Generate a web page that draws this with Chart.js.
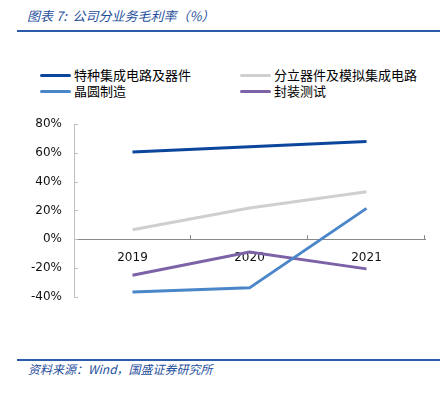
<!DOCTYPE html>
<html>
<head>
<meta charset="utf-8">
<script src="https://cdn.jsdelivr.net/npm/chart.js@4"></script>
<style>
  body { margin: 0; width: 447px; height: 393px; background: #fff; position: relative; overflow: hidden; }
  .title { position: absolute; left: 27px; top: 6px; font: italic 13px "Noto Sans CJK SC", sans-serif; color: #1f4f9c; white-space: nowrap; }
  .rule { position: absolute; left: 17px; width: 423px; height: 2px; background: #2a5caa; }
  .source { position: absolute; left: 28px; top: 360px; font: italic 12px "Noto Sans CJK SC", sans-serif; color: #1f4f9c; white-space: nowrap; }
  .legend-item { position: absolute; height: 16px; font: 13px "Noto Sans CJK SC", sans-serif; color: #000; white-space: nowrap; }
  .legend-item span.swatch { position: absolute; left: 0; top: 7px; width: 31px; height: 3px; border-radius: 2px; }
  .legend-item span.txt { position: absolute; left: 34px; top: -2px; }
  #wrap { position: absolute; left: 0; top: 100px; width: 447px; height: 216px; }
</style>
</head>
<body>
<div class="title">图表 7:&nbsp; 公司分业务毛利率（%）</div>
<div class="rule" style="top:30px"></div>
<div id="legend"></div>
<div id="wrap"><canvas id="chart"></canvas></div>
<div class="rule" style="top:359px"></div>
<div class="source">资料来源：Wind，国盛证券研究所</div>

<script>
// DATA
const years = ["2019", "2020", "2021"];
const special_ic = [60.5, 64.2, 67.8];
const discrete_analog = [6.5, 21.7, 32.9];
const wafer = [-36.6, -33.8, 21.4];
const packaging = [-25.0, -8.9, -20.6];
const y_ticks = [-40, -20, 0, 20, 40, 60, 80];

const series_names = ["特种集成电路及器件", "分立器件及模拟集成电路", "晶圆制造", "封装测试"];
const series_colors = ["#0b469c", "#cfcfcf", "#4a86c8", "#7d62a8"];
const series_data = [special_ic, discrete_analog, wafer, packaging];

// LEGEND (two columns)
const legend_el = document.getElementById("legend");
const legend_pos = [[40, 67], [240, 67], [40, 83], [240, 83]];
series_names.forEach((name, i) => {
  const item = document.createElement("div");
  item.className = "legend-item";
  item.style.left = legend_pos[i][0] + "px";
  item.style.top = legend_pos[i][1] + "px";
  item.innerHTML = `<span class="swatch" style="background:${series_colors[i]}"></span><span class="txt">${name}</span>`;
  legend_el.appendChild(item);
});

// small tick marks: inside for y, upward for x
const tickMarks = {
  id: "tickMarks",
  afterDraw(chart) {
    const { ctx } = chart;
    const x = chart.scales.x, y = chart.scales.y;
    const y0 = y.getPixelForValue(0);
    ctx.save();
    ctx.lineWidth = 1;
    ctx.strokeStyle = "#c0c0c0";
    y_ticks.forEach(v => {
      const py = Math.round(y.getPixelForValue(v)) + 0.5;
      ctx.beginPath();
      ctx.moveTo(x.left, py);
      ctx.lineTo(x.left + 4, py);
      ctx.stroke();
    });
    ctx.strokeStyle = "#888";
    const half = (x.right - x.left) / years.length / 2;
    years.forEach((yr, i) => {
      const px = Math.round(x.getPixelForValue(i) + half) - 0.5;
      ctx.beginPath();
      ctx.moveTo(px, y0);
      ctx.lineTo(px, y0 - 4);
      ctx.stroke();
    });
    ctx.restore();
  }
};

Chart.defaults.font.family = "'DejaVu Sans', sans-serif";
Chart.defaults.font.size = 12;
Chart.defaults.color = "#111";

const ctx = document.getElementById("chart").getContext("2d");
new Chart(ctx, {
  type: "line",
  data: {
    labels: years,
    datasets: series_names.map((name, i) => ({
      label: name,
      data: series_data[i],
      borderColor: series_colors[i],
      backgroundColor: series_colors[i],
      borderWidth: 3,
      pointRadius: 0,
      tension: 0,
      fill: false,
    })),
  },
  options: {
    responsive: true,
    maintainAspectRatio: false,
    animation: false,
    layout: { padding: { left: 0, right: 22, top: 24, bottom: 0 } },
    plugins: { legend: { display: false }, tooltip: { enabled: false } },
    scales: {
      x: {
        position: { y: 0 },
        offset: true,
        grid: { display: false, drawTicks: false },
        border: { display: true, color: "#888", width: 1 },
        ticks: { padding: 11, font: { size: 12 } },
      },
      y: {
        min: -40,
        max: 80,
        afterBuildTicks: (scale) => { scale.ticks = y_ticks.map(v => ({ value: v })); },
        afterFit: (scale) => { scale.width = 74; },
        grid: { display: false, drawTicks: false },
        border: { display: true, color: "#c0c0c0", width: 1 },
        ticks: { padding: 12, callback: (v) => v + "%" },
      },
    },
  },
  plugins: [tickMarks],
});
</script>
</body>
</html>
